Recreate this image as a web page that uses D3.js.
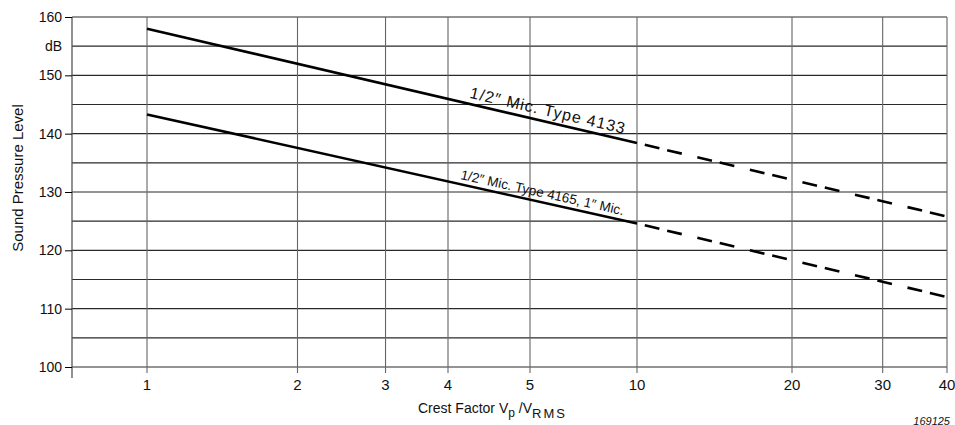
<!DOCTYPE html>
<html>
<head>
<meta charset="utf-8">
<script src="https://cdn.jsdelivr.net/npm/d3@7"></script>
<style>
  body { margin: 0; background: #fff; }
  text { font-family: "Liberation Sans", Arial, sans-serif; fill: #111; }
</style>
</head>
<body>
<script>
// chart data
var xTickValues = [1, 2, 3, 4, 5, 10, 20, 30, 40];
var yTickValues = [100, 110, 120, 130, 140, 150, 160];
var yGridValues = [100, 105, 110, 115, 120, 125, 130, 135, 140, 145, 150, 155, 160];
var crestFactor = [1, 10, 40];
var spl4133 = [158, 138.4, 125.8];
var spl4165 = [143.3, 124.6, 112];
var label4133 = "1/2\u2033 Mic. Type 4133";
var label4165 = "1/2\u2033 Mic. Type 4165, 1\u2033 Mic.";

// plot box (window.top is reserved, so no plain "top")
var plotLeft = 72, plotRight = 947, plotTop = 17, plotBottom = 367;

var svg = d3.select("body")
    .append("svg")
    .attr("width", 955)
    .attr("height", 425);

// log x scale, the printed grid is not quite regular so it is piecewise
var xScale = d3.scaleLog()
    .domain([0.7, 1, 4, 5, 10, 40])
    .range([plotLeft, 147, 448, 530, 637, plotRight]);

var yScale = d3.scaleLinear()
    .domain([100, 160])
    .range([plotBottom, plotTop]);

// horizontal grid
svg.append("g")
    .selectAll("line")
    .data(yGridValues)
    .enter()
    .append("line")
    .attr("x1", plotLeft)
    .attr("x2", plotRight)
    .attr("y1", function(d) { return yScale(d); })
    .attr("y2", function(d) { return yScale(d); })
    .attr("stroke", "#2a2a2a")
    .attr("stroke-width", 1.2);

// vertical grid
svg.append("g")
    .selectAll("line")
    .data(xTickValues)
    .enter()
    .append("line")
    .attr("x1", function(d) { return xScale(d); })
    .attr("x2", function(d) { return xScale(d); })
    .attr("y1", plotTop)
    .attr("y2", plotBottom + 6)
    .attr("stroke", "#666")
    .attr("stroke-width", 1.1);

// left border
svg.append("line")
    .attr("x1", plotLeft)
    .attr("x2", plotLeft)
    .attr("y1", plotTop)
    .attr("y2", plotBottom + 11)
    .attr("stroke", "#555")
    .attr("stroke-width", 1.3);

// y axis
var yAxis = d3.axisLeft()
    .scale(yScale)
    .tickValues(yTickValues)
    .tickSize(7)
    .tickPadding(3);

var gy = svg.append("g")
    .attr("transform", "translate(" + plotLeft + ",0)")
    .call(yAxis);
gy.select(".domain").remove();
gy.selectAll("text")
    .style("font-size", "14px")
    .style("font-family", "'Liberation Sans', Arial, sans-serif")
    .attr("fill", "#111");

// dB unit label
svg.append("text")
    .attr("x", 62)
    .attr("y", yScale(155))
    .attr("dy", "0.35em")
    .style("text-anchor", "end")
    .style("font-size", "14px")
    .text("dB");

// x tick labels
svg.append("g")
    .selectAll("text")
    .data(xTickValues)
    .enter()
    .append("text")
    .attr("x", function(d) { return xScale(d); })
    .attr("y", 390)
    .style("text-anchor", "middle")
    .style("font-size", "15px")
    .text(function(d) { return d; });

// axis titles
svg.append("text")
    .attr("transform", "rotate(-90)")
    .attr("x", -178)
    .attr("y", 23)
    .style("text-anchor", "middle")
    .style("font-size", "15px")
    .text("Sound Pressure Level");

var xt = svg.append("text")
    .attr("x", 418)
    .attr("y", 413)
    .style("font-size", "14px");
xt.append("tspan").text("Crest Factor V");
xt.append("tspan").attr("dy", 4).style("font-size", "12px").text("p");
xt.append("tspan").attr("dy", -4).text(" /V");
xt.append("tspan").attr("dy", 5).style("font-size", "13px").style("letter-spacing", "2px").text("RMS");

svg.append("text")
    .attr("x", 950)
    .attr("y", 425)
    .style("text-anchor", "end")
    .style("font-size", "11px")
    .style("font-style", "italic")
    .attr("fill", "#333")
    .text("169125");

// curves: solid up to 10, dashed beyond
function drawCurve(vals) {
    var solid = [[crestFactor[0], vals[0]], [crestFactor[1], vals[1]]];
    var dashed = [[crestFactor[1], vals[1]], [crestFactor[2], vals[2]]];
    var line = d3.line()
        .x(function(d) { return xScale(d[0]); })
        .y(function(d) { return yScale(d[1]); });
    svg.append("path")
        .attr("d", line(solid))
        .attr("fill", "none")
        .attr("stroke", "#000")
        .attr("stroke-width", 2.6);
    svg.append("path")
        .attr("d", line(dashed))
        .attr("fill", "none")
        .attr("stroke", "#000")
        .attr("stroke-width", 2.6)
        .attr("stroke-dasharray", "0,8,15,8,15,8");
}

drawCurve(spl4133);
drawCurve(spl4165);

// label sitting on the solid part of a curve
function curveLabel(vals, xv, txt, size, spacing, dy) {
    var x0 = xScale(crestFactor[0]), x1 = xScale(crestFactor[1]);
    var y0 = yScale(vals[0]), y1 = yScale(vals[1]);
    var px = xScale(xv);
    var py = y0 + (px - x0) / (x1 - x0) * (y1 - y0);
    var angle = Math.atan2(y1 - y0, x1 - x0) * 180 / Math.PI;
    svg.append("text")
        .attr("transform", "translate(" + px + "," + py + ") rotate(" + angle + ")")
        .attr("dy", dy)
        .style("font-size", size)
        .style("letter-spacing", spacing)
        .text(txt);
}

curveLabel(spl4133, 4.22, label4133, "16px", "1px", -6);
curveLabel(spl4165, 4.12, label4165, "13.5px", "0px", -5);
</script>
</body>
</html>
